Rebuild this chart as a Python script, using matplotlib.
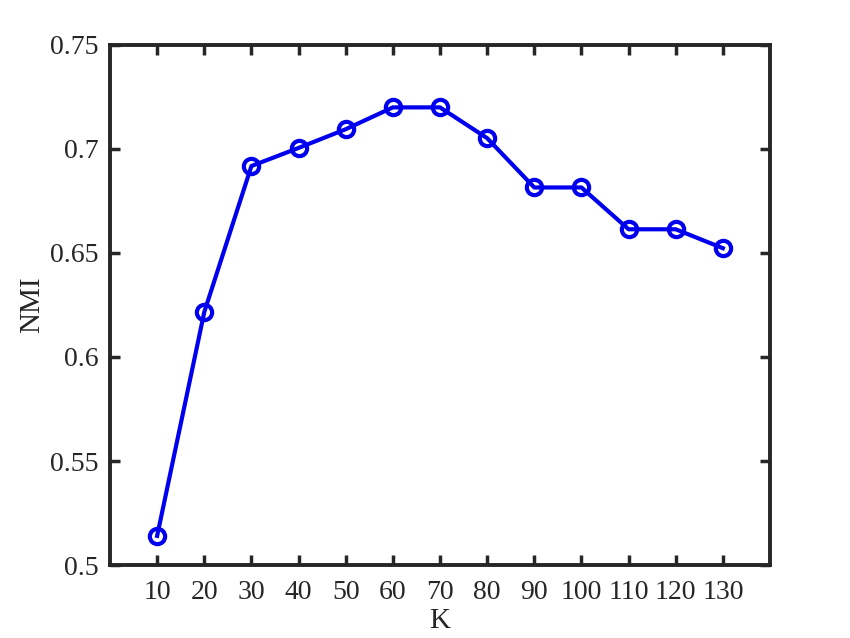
import matplotlib
matplotlib.use("Agg")
import matplotlib.pyplot as plt

K = [10, 20, 30, 40, 50, 60, 70, 80, 90, 100, 110, 120, 130]
NMI = [0.514, 0.6216, 0.6918, 0.7005, 0.7095, 0.7200, 0.7200, 0.7052, 0.6815, 0.6815, 0.6614, 0.6614, 0.6523]
xticks = K
yticks = [0.5, 0.55, 0.6, 0.65, 0.7, 0.75]
ytick_labels = ["0.5", "0.55", "0.6", "0.65", "0.7", "0.75"]

plt.rcParams['font.family'] = ['Liberation Serif', 'DejaVu Serif']
fig = plt.figure(figsize=(8.5, 6.38), dpi=100)
ax = fig.add_axes([0.1294, 0.1144, 0.7765, 0.8151])
ax.plot(K, NMI, color='#0000ee', linewidth=3, marker='o', markersize=11,
        markerfacecolor='none', markeredgewidth=3)
ax.set_xlim(0, 140)
ax.set_ylim(0.5, 0.75)
ax.set_xticks(xticks)
ax.set_xticklabels([str(k) for k in xticks])
ax.set_yticks(yticks)
ax.set_yticklabels(ytick_labels)
ax.tick_params(direction='in', top=True, right=True, length=7, width=2.5,
               labelsize=20, colors='#262626')
ax.tick_params(axis='x', pad=11)
ax.tick_params(axis='y', pad=8)
for s in ax.spines.values():
    s.set_linewidth(2.8)
    s.set_color('#262626')
ax.set_xlabel('K', fontsize=21, color='#262626', labelpad=2)
ax.set_ylabel('NMI', fontsize=21, color='#262626', labelpad=4)
fig.savefig('out.png', dpi=100)
